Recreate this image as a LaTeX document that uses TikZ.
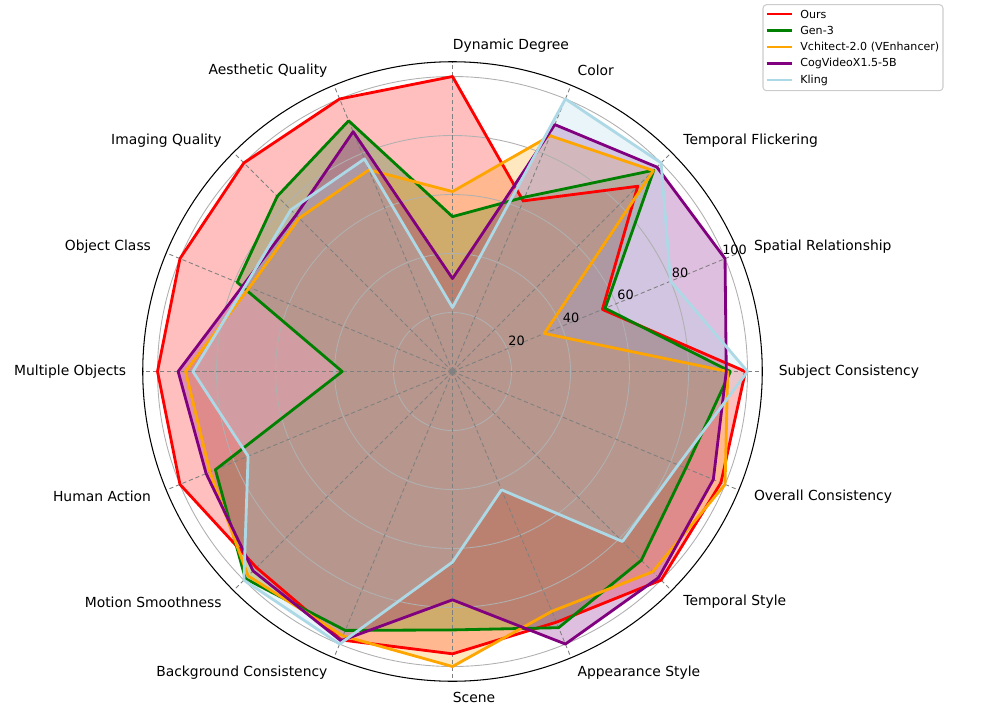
\documentclass[tikz,border=0pt]{standalone}
\usepackage{fontspec}
\setmainfont{DejaVu Sans}
\usetikzlibrary{calc}

\definecolor{oursred}{HTML}{FF0000}
\definecolor{genthree}{HTML}{008000}
\definecolor{vchorange}{HTML}{FFA500}
\definecolor{cogpurple}{HTML}{800080}
\definecolor{klingblue}{HTML}{ADD8E6}
\definecolor{gridgray}{HTML}{B0B0B0}
\definecolor{framegray}{HTML}{CCCCCC}

\begin{document}
\begin{tikzpicture}[x=0.02cm, y=0.02cm,
    seriesfill/.style={fill=#1, fill opacity=0.25},
    seriesline/.style={draw=#1, line width=1.6pt, line join=round},
    ringline/.style={gridgray, line width=0.5pt},
    spokeline/.style={gray, line width=0.5pt, dash pattern=on 2.4pt off 1.6pt},
    axislabel/.style={font=\fontsize{7.9}{9.5}\selectfont, inner sep=0pt},
    ticklabel/.style={font=\fontsize{7.3}{8.8}\selectfont, inner sep=0pt},
    legendtext/.style={font=\fontsize{6.3}{7.6}\selectfont, inner sep=0pt, anchor=west}]

    % Fix the canvas size
    \useasboundingbox (0,0) rectangle (1000,708);

    \begin{scope}[shift={(452.5,336.5)}]
    % Vertices of each model (radius = 2.95 * score)
    \foreach \v [count=\k from 0] in {99.3,55,88.8,62.6,100,100,100,100,100,100,94,98.5,95.7,92,100,98.5}
        \coordinate (ours-\k) at ({22.5*\k}:{2.95*\v});
    \foreach \v [count=\k from 0] in {94.2,56,96.5,64,52.5,92,84,79,37.4,87,99.3,95,87.6,94,90.5,85.6}
        \coordinate (gen-\k) at ({22.5*\k}:{2.95*\v});
    \foreach \v [count=\k from 0] in {93.3,33.7,96.3,86.5,61,74,73.5,74.5,90.5,89,98,97,100,88,96,100}
        \coordinate (vch-\k) at ({22.5*\k}:{2.95*\v});
    \foreach \v [count=\k from 0] in {92.8,100,98,90.6,31.5,88,75,76.7,93,90.4,95.6,98.8,77.4,100,98.8,95.7}
        \coordinate (cog-\k) at ({22.5*\k}:{2.95*\v});
    \foreach \v [count=\k from 0] in {100,80,100,100,21.7,78,77.5,76,88,75,100,100,64.6,43.4,81.5,82.8}
        \coordinate (kling-\k) at ({22.5*\k}:{2.95*\v});

    % Shaded areas
    \foreach \model/\col in {ours/oursred, gen/genthree, vch/vchorange, cog/cogpurple, kling/klingblue}
        \fill[seriesfill=\col] (\model-0) \foreach \k in {1,...,15} { -- (\model-\k) } -- cycle;

    % Rings, spokes and outer circle
    \foreach \v in {20,40,60,80,100}
        \draw[ringline] (0,0) circle[radius={2.95*\v}];
    \foreach \k in {0,...,15}
        \draw[spokeline] (0,0) -- ({22.5*\k}:309.75);
    \draw[black, line width=0.6pt] (0,0) circle[radius=309.75];

    % Outlines
    \foreach \model/\col in {ours/oursred, gen/genthree, vch/vchorange, cog/cogpurple, kling/klingblue}
        \draw[seriesline=\col] (\model-0) \foreach \k in {1,...,15} { -- (\model-\k) } -- cycle;

    % Dimension names
    \foreach \name/\anc [count=\k from 0] in {Subject Consistency/west, Spatial Relationship/west,
        Temporal Flickering/west, Color/west, Dynamic Degree/west, Aesthetic Quality/east,
        Imaging Quality/east, Object Class/east, Multiple Objects/east, Human Action/east,
        Motion Smoothness/east, Background Consistency/east, Scene/west, Appearance Style/west,
        Temporal Style/west, Overall Consistency/west}
        \node[axislabel, anchor=\anc] (lab-\k) at ({22.5*\k}:326) {\name};

    % Ring values
    \foreach \v in {20,40,60,80,100}
        \node[ticklabel, xshift=0.19cm, yshift=0.17cm] (tick-\v) at (22.5:{2.95*\v}) {\v};
    \end{scope}

    % Legend
    \draw[framegray, line width=0.6pt, rounded corners=2pt, fill=white] (763,617.3) rectangle (943,703.3);
    \foreach \model/\col/\txt [count=\i from 0] in {ours/oursred/Ours, gen/genthree/Gen-3,
        vch/vchorange/Vchitect-2.0 (VEnhancer), cog/cogpurple/CogVideoX1.5-5B, kling/klingblue/Kling} {
        \node[legendtext] (leg-\model) at (800,{694-16.5*\i}) {\txt};
        \draw[seriesline=\col] ($(leg-\model.west)+(-33.3,0)$) -- ($(leg-\model.west)+(-8.3,0)$);
    }
\end{tikzpicture}
\end{document}
